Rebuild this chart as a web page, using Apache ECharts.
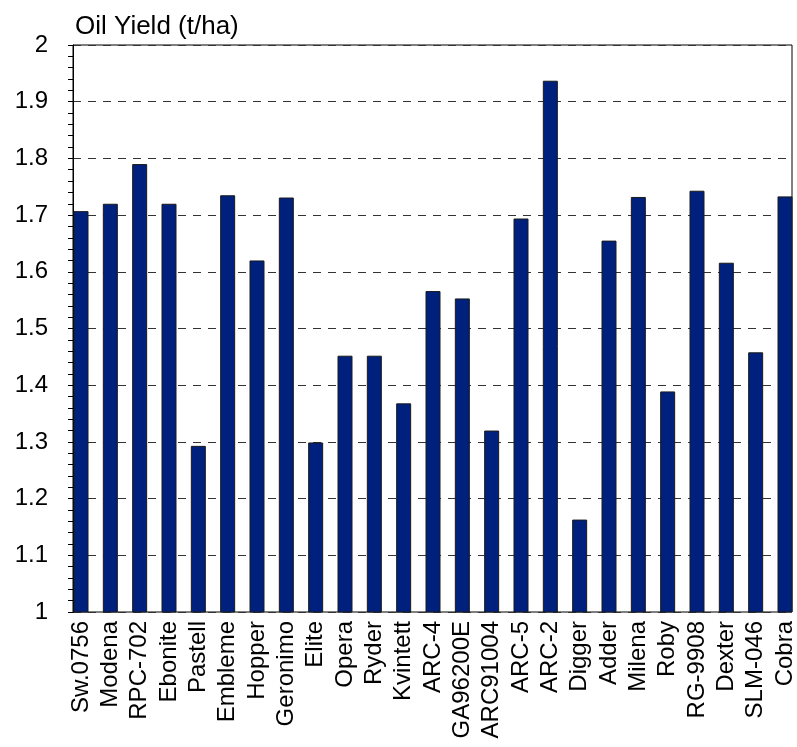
<!DOCTYPE html>
<html>
<head>
<meta charset="utf-8">
<script src="https://cdn.jsdelivr.net/npm/echarts@6/dist/echarts.min.js"></script>
<style>
  html, body { margin: 0; padding: 0; background: #fff; }
  #chart { width: 797px; height: 747px; }
</style>
</head>
<body>
<div id="chart"></div>
<script>
const varieties = [
  "Sw.0756", "Modena", "RPC-702", "Ebonite", "Pastell", "Embleme", "Hopper",
  "Geronimo", "Elite", "Opera", "Ryder", "Kvintett", "ARC-4", "GA96200E",
  "ARC91004", "ARC-5", "ARC-2", "Digger", "Adder", "Milena", "Roby",
  "RG-9908", "Dexter", "SLM-046", "Cobra"
];
const oilYield = [
  1.707, 1.720, 1.790, 1.720, 1.293, 1.735, 1.620,
  1.731, 1.299, 1.452, 1.452, 1.368, 1.566, 1.553,
  1.320, 1.694, 1.937, 1.163, 1.655, 1.732, 1.389,
  1.743, 1.616, 1.458, 1.733
];
const yMin = 1, yMax = 2, yStep = 0.1;

const FONT = "'Liberation Sans', Arial, sans-serif";
const el = document.getElementById("chart");
const chart = echarts.init(el);

chart.setOption({
  animation: false,
  backgroundColor: "#fff",
  title: {
    text: "Oil Yield (t/ha)",
    left: 70, top: 9,
    textStyle: { fontFamily: FONT, fontSize: 26, fontWeight: "normal", color: "#000" }
  },
  grid: [
    // frame + value axis
    { left: 73, right: 5, top: 45, bottom: 135, show: true, borderColor: "#000", borderWidth: 1 },
    // bars, centred from first to last bar
    { left: 81, right: 12, top: 45, bottom: 135 }
  ],
  xAxis: [
    { gridIndex: 0, type: "category", data: varieties, show: false },
    {
      gridIndex: 1, type: "category", data: varieties, boundaryGap: false,
      axisLine: { show: false }, axisTick: { show: false },
      axisLabel: {
        rotate: 90, margin: 9, interval: 0,
        fontFamily: FONT, fontSize: 24, color: "#000"
      }
    }
  ],
  yAxis: [
    {
      gridIndex: 0, type: "value", min: yMin, max: yMax, interval: yStep,
      axisLine: { show: true, lineStyle: { color: "#000" } },
      axisTick: { show: true, length: 5, lineStyle: { color: "#000" } },
      minorTick: { show: true, splitNumber: 5, length: 5, lineStyle: { color: "#000" } },
      axisLabel: { margin: 25, fontFamily: FONT, fontSize: 24, color: "#000" },
      splitLine: { show: true, lineStyle: { color: "#333", type: [8, 7], width: 1 } }
    },
    { gridIndex: 1, type: "value", min: yMin, max: yMax, show: false, splitLine: { show: false } }
  ],
  series: [{
    type: "bar",
    xAxisIndex: 1, yAxisIndex: 1,
    data: oilYield,
    barWidth: 15,
    itemStyle: { color: "#00207e", borderColor: "#1a1a1a", borderWidth: 1 }
  }]
});
</script>
</body>
</html>
